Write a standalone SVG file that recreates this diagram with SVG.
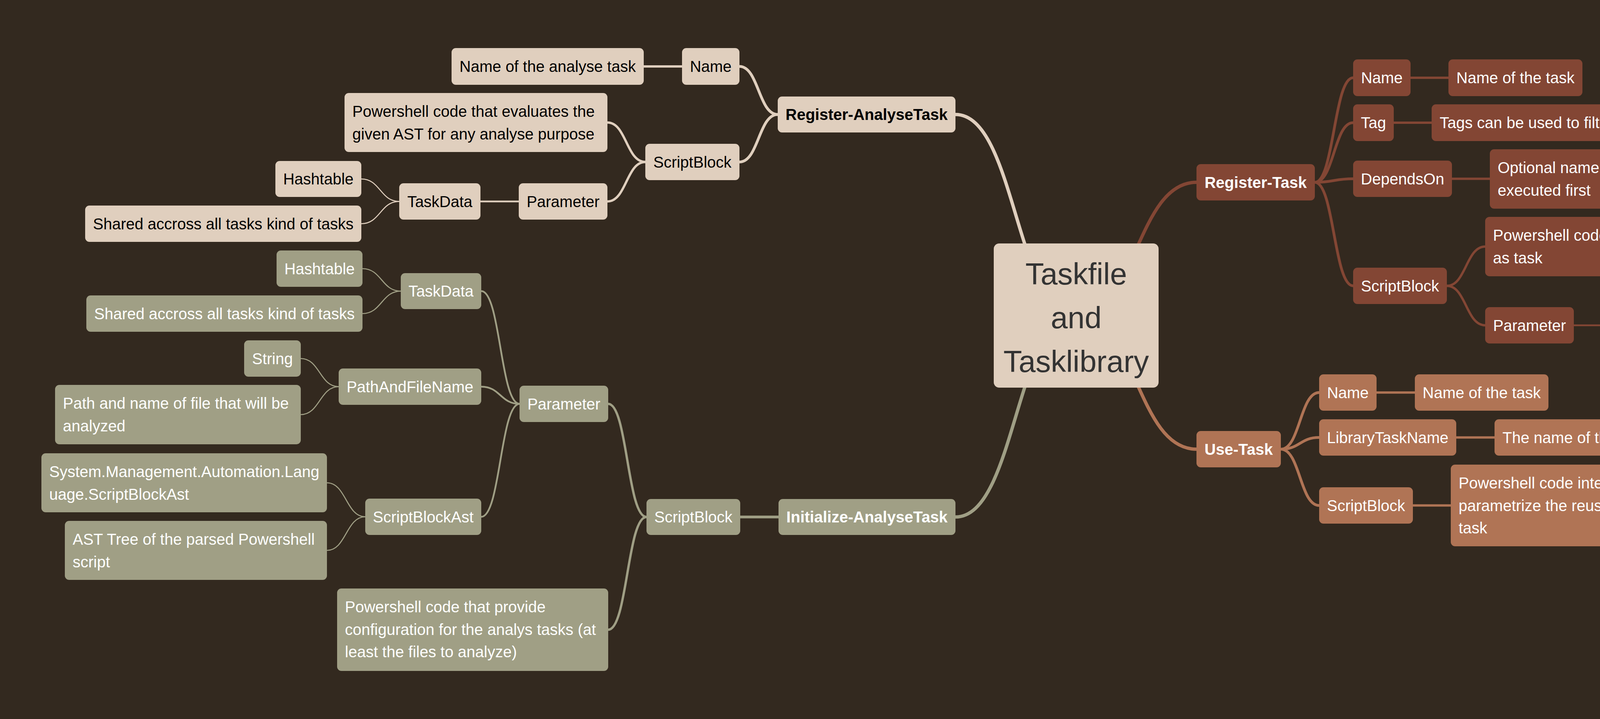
<svg xmlns="http://www.w3.org/2000/svg" width="5244" height="1840" viewBox="0 0 5244 1840">
<style>
text{font-family:"Liberation Sans",Arial,Helvetica,sans-serif;font-size:40px}
.c{text-anchor:middle}
.bd{font-weight:bold}
.e{fill:none;stroke-linecap:round}
.d0{stroke-width:8.5}.d1{stroke-width:7}.d2{stroke-width:6}.d3{stroke-width:4.5}.d4{stroke-width:2.7}
.eb{stroke:#e0cfbe}.eg{stroke:#a09f85}.er{stroke:#834634}.et{stroke:#b07455}
.nb rect{fill:#e0cfbe}.nb text{fill:#000}
.ng rect{fill:#a09f85}.ng text{fill:#fff}
.nr rect{fill:#834634}.nr text{fill:#fff}
.nt rect{fill:#b07455}.nt text{fill:#fff}
.root rect{fill:#e0cfbe}.root text{fill:#333;font-size:78px;text-anchor:middle}
</style>
<rect x="0" y="0" width="5244" height="1840" fill="#33291f"/>
<g id="connectors">
<path class="e d0 eb" d="M2755,807.5 C2600.5,807.5 2600.5,293 2446,293"/>
<path class="e d0 eg" d="M2755,807.5 C2600.5,807.5 2600.5,1323 2446,1323"/>
<path class="e d0 er" d="M2755,807.5 C2909,807.5 2909,466.5 3063,466.5"/>
<path class="e d0 et" d="M2755,807.5 C2909,807.5 2909,1149.5 3063,1149.5"/>
<path class="e d1 eb" d="M1991,293 C1942,293 1942,170 1893,170"/>
<path class="e d1 eb" d="M1991,293 C1942,293 1942,414.5 1893,414.5"/>
<path class="e d2 eb" d="M1746,170 L1648,170"/>
<path class="e d2 eb" d="M1652,414.5 C1603.5,414.5 1603.5,313.5 1555,313.5"/>
<path class="e d2 eb" d="M1652,414.5 C1603.5,414.5 1603.5,515.5 1555,515.5"/>
<path class="e d3 eb" d="M1328,515.5 L1230,515.5"/>
<path class="e d4 eb" d="M1022,515.5 C973.5,515.5 973.5,458 925,458"/>
<path class="e d4 eb" d="M1022,515.5 C973.5,515.5 973.5,572.5 925,572.5"/>
<path class="e d1 eg" d="M1993,1323 L1895,1323"/>
<path class="e d2 eg" d="M1655,1323 C1606,1323 1606,1033.5 1557,1033.5"/>
<path class="e d2 eg" d="M1655,1323 C1606,1323 1606,1611.5 1557,1611.5"/>
<path class="e d3 eg" d="M1330,1033.5 C1281,1033.5 1281,745 1232,745"/>
<path class="e d3 eg" d="M1330,1033.5 C1281,1033.5 1281,989.5 1232,989.5"/>
<path class="e d3 eg" d="M1330,1033.5 C1281,1033.5 1281,1322.5 1232,1322.5"/>
<path class="e d4 eg" d="M1026,745 C977,745 977,687.5 928,687.5"/>
<path class="e d4 eg" d="M1026,745 C977,745 977,802.5 928,802.5"/>
<path class="e d4 eg" d="M867,989.5 C818.5,989.5 818.5,917.5 770,917.5"/>
<path class="e d4 eg" d="M867,989.5 C818.5,989.5 818.5,1061 770,1061"/>
<path class="e d4 eg" d="M935,1322.5 C886,1322.5 886,1235.5 837,1235.5"/>
<path class="e d4 eg" d="M935,1322.5 C886,1322.5 886,1408.5 837,1408.5"/>
<path class="e d1 er" d="M3366,466.5 C3415,466.5 3415,199 3464,199"/>
<path class="e d1 er" d="M3366,466.5 C3415,466.5 3415,314 3464,314"/>
<path class="e d1 er" d="M3366,466.5 C3415,466.5 3415,457.5 3464,457.5"/>
<path class="e d1 er" d="M3366,466.5 C3415,466.5 3415,731.5 3464,731.5"/>
<path class="e d2 er" d="M3611,199 L3708,199"/>
<path class="e d2 er" d="M3568,314 L3665,314"/>
<path class="e d2 er" d="M3717,457.5 L3814,457.5"/>
<path class="e d2 er" d="M3704,731.5 C3753,731.5 3753,631 3802,631"/>
<path class="e d2 er" d="M3704,731.5 C3753,731.5 3753,832.5 3802,832.5"/>
<path class="e d3 er" d="M4029,832.5 L4127,832.5"/>
<path class="e d4 er" d="M4333,832.5 C4382,832.5 4382,775.5 4431,775.5"/>
<path class="e d4 er" d="M4333,832.5 C4382,832.5 4382,889.5 4431,889.5"/>
<path class="e d1 et" d="M3279,1149.5 C3328,1149.5 3328,1004.5 3377,1004.5"/>
<path class="e d1 et" d="M3279,1149.5 C3328,1149.5 3328,1119.5 3377,1119.5"/>
<path class="e d1 et" d="M3279,1149.5 C3328,1149.5 3328,1293.5 3377,1293.5"/>
<path class="e d2 et" d="M3524,1004.5 L3622,1004.5"/>
<path class="e d2 et" d="M3728,1119.5 L3826,1119.5"/>
<path class="e d2 et" d="M3617,1293.5 L3714,1293.5"/>
</g>
<g id="root" class="root"><rect x="2544" y="623" width="422" height="369" rx="14"/><text><tspan x="2755" y="728">Taskfile</tspan><tspan x="2755" y="840">and</tspan><tspan x="2755" y="952">Tasklibrary</tspan></text></g>
<g id="register-analysetask" class="nb"><rect x="1991" y="247" width="455" height="92" rx="11"/><text class="c bd" x="2218.5" y="307">Register-AnalyseTask</text></g>
<g id="rat-name" class="nb"><rect x="1746" y="123" width="147" height="94" rx="11"/><text class="c" x="1819.5" y="184">Name</text></g>
<g id="rat-name-desc" class="nb"><rect x="1156" y="123" width="492" height="94" rx="11"/><text class="c" x="1402" y="184">Name of the analyse task</text></g>
<g id="rat-scriptblock" class="nb"><rect x="1652" y="368" width="241" height="93" rx="11"/><text class="c" x="1772.5" y="428.5">ScriptBlock</text></g>
<g id="rat-scriptblock-desc" class="nb"><rect x="882" y="238" width="673" height="151" rx="11"/><text><tspan x="902" y="299">Powershell code that evaluates the</tspan><tspan x="902" y="356.5">given AST for any analyse purpose</tspan></text></g>
<g id="rat-parameter" class="nb"><rect x="1328" y="469" width="227" height="93" rx="11"/><text class="c" x="1441.5" y="529.5">Parameter</text></g>
<g id="rat-taskdata" class="nb"><rect x="1022" y="469" width="208" height="93" rx="11"/><text class="c" x="1126" y="529.5">TaskData</text></g>
<g id="rat-hashtable" class="nb"><rect x="705" y="412" width="220" height="92" rx="11"/><text class="c" x="815" y="472">Hashtable</text></g>
<g id="rat-shared" class="nb"><rect x="218" y="526" width="707" height="93" rx="11"/><text class="c" x="571.5" y="586.5">Shared accross all tasks kind of tasks</text></g>
<g id="initialize-analysetask" class="ng"><rect x="1993" y="1277" width="453" height="92" rx="11"/><text class="c bd" x="2219.5" y="1337">Initialize-AnalyseTask</text></g>
<g id="iat-scriptblock" class="ng"><rect x="1655" y="1277" width="240" height="92" rx="11"/><text class="c" x="1775" y="1337">ScriptBlock</text></g>
<g id="iat-scriptblock-desc" class="ng"><rect x="863" y="1506" width="694" height="211" rx="11"/><text><tspan x="883" y="1567">Powershell code that provide</tspan><tspan x="883" y="1624.5">configuration for the analys tasks (at</tspan><tspan x="883" y="1682">least the files to analyze)</tspan></text></g>
<g id="iat-parameter" class="ng"><rect x="1330" y="987" width="227" height="93" rx="11"/><text class="c" x="1443.5" y="1047.5">Parameter</text></g>
<g id="iat-taskdata" class="ng"><rect x="1026" y="699" width="206" height="92" rx="11"/><text class="c" x="1129" y="759">TaskData</text></g>
<g id="iat-hashtable" class="ng"><rect x="708" y="641" width="220" height="93" rx="11"/><text class="c" x="818" y="701.5">Hashtable</text></g>
<g id="iat-shared" class="ng"><rect x="221" y="756" width="707" height="93" rx="11"/><text class="c" x="574.5" y="816.5">Shared accross all tasks kind of tasks</text></g>
<g id="iat-pathandfilename" class="ng"><rect x="867" y="943" width="365" height="93" rx="11"/><text class="c" x="1049.5" y="1003.5">PathAndFileName</text></g>
<g id="iat-string" class="ng"><rect x="625" y="871" width="145" height="93" rx="11"/><text class="c" x="697.5" y="931.5">String</text></g>
<g id="iat-path-desc" class="ng"><rect x="141" y="985" width="629" height="152" rx="11"/><text><tspan x="161" y="1046">Path and name of file that will be</tspan><tspan x="161" y="1103.5">analyzed</tspan></text></g>
<g id="iat-scriptblockast" class="ng"><rect x="935" y="1276" width="297" height="93" rx="11"/><text class="c" x="1083.5" y="1336.5">ScriptBlockAst</text></g>
<g id="iat-ast-type" class="ng"><rect x="106" y="1160" width="731" height="151" rx="11"/><text><tspan x="126" y="1221">System.Management.Automation.Lang</tspan><tspan x="126" y="1278.5">uage.ScriptBlockAst</tspan></text></g>
<g id="iat-ast-desc" class="ng"><rect x="166" y="1333" width="671" height="151" rx="11"/><text><tspan x="186" y="1394">AST Tree of the parsed Powershell</tspan><tspan x="186" y="1451.5">script</tspan></text></g>
<g id="register-task" class="nr"><rect x="3063" y="420" width="303" height="93" rx="11"/><text class="c bd" x="3214.5" y="480.5">Register-Task</text></g>
<g id="rt-name" class="nr"><rect x="3464" y="152" width="147" height="94" rx="11"/><text class="c" x="3537.5" y="213">Name</text></g>
<g id="rt-name-desc" class="nr"><rect x="3708" y="152" width="343" height="94" rx="11"/><text class="c" x="3879.5" y="213">Name of the task</text></g>
<g id="rt-tag" class="nr"><rect x="3464" y="267" width="104" height="94" rx="11"/><text class="c" x="3516" y="328">Tag</text></g>
<g id="rt-tag-desc" class="nr"><rect x="3665" y="267" width="648" height="94" rx="11"/><text class="c" x="3989" y="328">Tags can be used to filter for tasks</text></g>
<g id="rt-dependson" class="nr"><rect x="3464" y="411" width="253" height="93" rx="11"/><text class="c" x="3590.5" y="471.5">DependsOn</text></g>
<g id="rt-dependson-desc" class="nr"><rect x="3814" y="382" width="704" height="152" rx="11"/><text><tspan x="3834" y="443">Optional name of task that should be</tspan><tspan x="3834" y="500.5">executed first</tspan></text></g>
<g id="rt-scriptblock" class="nr"><rect x="3464" y="685" width="240" height="93" rx="11"/><text class="c" x="3584" y="745.5">ScriptBlock</text></g>
<g id="rt-scriptblock-desc" class="nr"><rect x="3802" y="555" width="718" height="152" rx="11"/><text><tspan x="3822" y="616">Powershell code that will be executed</tspan><tspan x="3822" y="673.5">as task</tspan></text></g>
<g id="rt-parameter" class="nr"><rect x="3802" y="786" width="227" height="93" rx="11"/><text class="c" x="3915.5" y="846.5">Parameter</text></g>
<g id="rt-taskdata" class="nr"><rect x="4127" y="786" width="206" height="93" rx="11"/><text class="c" x="4230" y="846.5">TaskData</text></g>
<g id="rt-hashtable" class="nr"><rect x="4431" y="729" width="220" height="93" rx="11"/><text class="c" x="4541" y="789.5">Hashtable</text></g>
<g id="rt-shared" class="nr"><rect x="4431" y="843" width="707" height="93" rx="11"/><text class="c" x="4784.5" y="903.5">Shared accross all tasks kind of tasks</text></g>
<g id="use-task" class="nt"><rect x="3063" y="1103" width="216" height="93" rx="11"/><text class="c bd" x="3171" y="1163.5">Use-Task</text></g>
<g id="ut-name" class="nt"><rect x="3377" y="958" width="147" height="93" rx="11"/><text class="c" x="3450.5" y="1018.5">Name</text></g>
<g id="ut-name-desc" class="nt"><rect x="3622" y="958" width="342" height="93" rx="11"/><text class="c" x="3793" y="1018.5">Name of the task</text></g>
<g id="ut-librarytaskname" class="nt"><rect x="3377" y="1073" width="351" height="93" rx="11"/><text class="c" x="3552.5" y="1133.5">LibraryTaskName</text></g>
<g id="ut-librarytaskname-desc" class="nt"><rect x="3826" y="1073" width="692" height="93" rx="11"/><text class="c" x="4172" y="1133.5">The name of the library task to reuse</text></g>
<g id="ut-scriptblock" class="nt"><rect x="3377" y="1247" width="240" height="93" rx="11"/><text class="c" x="3497" y="1307.5">ScriptBlock</text></g>
<g id="ut-scriptblock-desc" class="nt"><rect x="3714" y="1189" width="673" height="209" rx="11"/><text><tspan x="3734" y="1250">Powershell code intended to</tspan><tspan x="3734" y="1307.5">parametrize the reuse of the library</tspan><tspan x="3734" y="1365">task</tspan></text></g>
</svg>
